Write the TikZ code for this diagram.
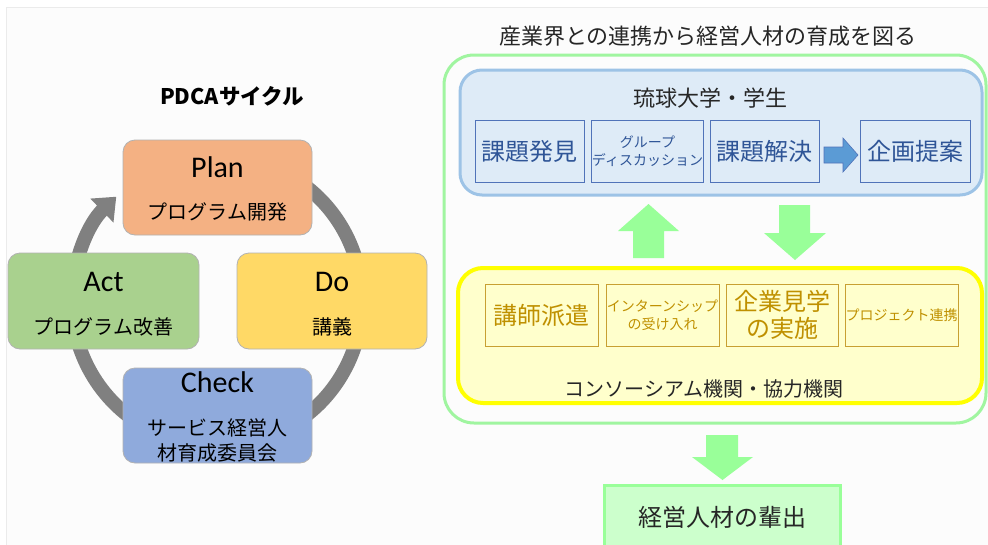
\documentclass[tikz,border=0pt]{standalone}
\usepackage{fontspec}
\setmainfont{Carlito}
\newfontfamily\jp{Noto Sans CJK JP}
\usetikzlibrary{arrows.meta}
\definecolor{planC}{RGB}{244,177,131}
\definecolor{actC}{RGB}{169,209,142}
\definecolor{doC}{RGB}{255,217,102}
\definecolor{checkC}{RGB}{143,170,220}
\definecolor{ringC}{RGB}{128,128,128}
\definecolor{outerC}{RGB}{160,245,160}
\definecolor{blueFill}{RGB}{222,235,247}
\definecolor{blueLine}{RGB}{157,195,230}
\definecolor{blueBox}{RGB}{80,115,185}
\definecolor{blueText}{RGB}{47,85,151}
\definecolor{blueArrow}{RGB}{91,155,213}
\definecolor{yelLine}{RGB}{255,255,0}
\definecolor{yelFill}{RGB}{255,255,204}
\definecolor{goldC}{RGB}{191,144,0}
\definecolor{goldLine}{RGB}{200,160,50}
\definecolor{arrowG}{RGB}{153,255,153}
\definecolor{resFill}{RGB}{204,255,204}
\begin{document}
\begin{tikzpicture}[x=1pt,y=1pt,
  pbox/.style={rounded corners=12pt, draw=black!30, line width=0.8pt, inner sep=0pt},
  ptxt/.style={inner sep=0pt, font=\fontsize{30}{32}\selectfont},
  pjp/.style={inner sep=0pt, font=\jp\fontsize{20}{22}\selectfont},
  ring/.style={draw=ringC, line width=14pt},
  bbox/.style={draw=blueBox, line width=1pt, fill=blueFill, minimum width=109pt, minimum height=62pt, inner sep=0pt, text=blueText, align=center},
  ybox/.style={draw=goldLine, line width=1pt, fill=yelFill, minimum width=113pt, minimum height=62pt, inner sep=0pt, text=goldC, align=center},
  big/.style={font=\jp\fontsize{24}{28}\selectfont},
  small/.style={font=\jp\fontsize{14}{18}\selectfont},
  garrow/.style={fill=arrowG, draw=none},
]
\useasboundingbox (0,0) rectangle (988,-544);
\fill[white] (0,0) rectangle (988,-544);
\filldraw[fill=black!1, draw=black!8, line width=0.8pt] (6,-7) rectangle (990,-546);

% ---------- PDCA ----------
\node[inner sep=0pt, font=\jp\bfseries\fontsize{21.5}{23}\selectfont] (pdcaT) at (232,-96) {PDCAサイクル};

\draw[ring, -{Triangle[length=20pt,width=32pt]}] (217,-301) ++(60:145) arc[start angle=60, end angle=-226, radius=145];

\node[pbox, fill=planC, minimum width=189pt, minimum height=95pt] (plan) at (217.5,-187.5) {};
\node[pbox, fill=actC, minimum width=191pt, minimum height=96pt] (act) at (103.5,-301) {};
\node[pbox, fill=doC, minimum width=190pt, minimum height=96pt] (do) at (332,-301) {};
\node[pbox, fill=checkC, minimum width=189pt, minimum height=95pt] (check) at (217.5,-415.5) {};

\node[ptxt] (planE) at (217.5,-167) {Plan};
\node[pjp] (planJ) at (217.5,-212) {プログラム開発};
\node[ptxt] (actE) at (103.5,-282) {Act};
\node[pjp] (actJ) at (103.5,-327) {プログラム改善};
\node[ptxt] (doE) at (332,-282) {Do};
\node[pjp] (doJ) at (332,-327) {講義};
\node[ptxt] (checkE) at (217.5,-382) {Check};
\node[pjp] (checkJa) at (217.5,-428) {サービス経営人};
\node[pjp] (checkJb) at (217.5,-453) {材育成委員会};

% ---------- right side ----------
\node[inner sep=0pt, font=\jp\fontsize{22}{24}\selectfont, text=black!85] (rightT) at (708,-36) {産業界との連携から経営人材の育成を図る};

\draw[draw=outerC, line width=3pt, rounded corners=30pt] (444,-55) rectangle (986,-423);

\draw[draw=blueLine, fill=blueFill, line width=3pt, rounded corners=22pt] (460,-70) rectangle (982,-195);
\node[inner sep=0pt, font=\jp\fontsize{22}{24}\selectfont, text=black!85] (univ) at (710,-98) {琉球大学・学生};

\node[bbox, big] (b1) at (529.5,-151) {課題発見};
\node[bbox, small] (b2) at (647.5,-151) {グループ\\ディスカッション};
\node[bbox, big] (b3) at (764.5,-151) {課題解決};
\node[bbox, big, minimum width=110pt] (b4) at (915,-151) {企画提案};

\filldraw[fill=blueArrow, draw=blueBox, line width=0.6pt]
  (824,-147) -- (843,-147) -- (843,-138) -- (858,-155) -- (843,-172) -- (843,-163) -- (824,-163) -- cycle;

\draw[draw=yelLine, fill=yelFill, line width=4pt, rounded corners=25pt] (458,-268) rectangle (982,-403);

\node[ybox, big] (y1) at (541.5,-315) {講師派遣};
\node[ybox, small] (y2) at (662.5,-315) {インターンシップ\\の受け入れ};
\node[ybox, big, minimum width=112pt, font=\jp\fontsize{24}{27}\selectfont] (y3) at (782,-315) {企業見学\\の実施};
\node[ybox, small] (y4) at (901.5,-315) {プロジェクト連携};

\node[inner sep=0pt, font=\jp\fontsize{20}{22}\selectfont, text=black!85] (cons) at (704,-389) {コンソーシアム機関・協力機関};

% green block arrows
\path[garrow] (633,-258) -- (633,-231) -- (618,-231) -- (648.5,-204) -- (679,-231) -- (664,-231) -- (664,-258) -- cycle;
\path[garrow] (779,-205) -- (779,-233) -- (764,-233) -- (795,-260) -- (826,-233) -- (810,-233) -- (810,-205) -- cycle;
\path[garrow] (706,-435) -- (706,-457) -- (692,-457) -- (722.5,-480) -- (753,-457) -- (738,-457) -- (738,-435) -- cycle;

\draw[fill=resFill, draw=arrowG, line width=3pt] (604,-485) rectangle (840,-560);
\node[inner sep=0pt, font=\jp\fontsize{24}{26}\selectfont, text=black!85] (result) at (722,-517) {経営人材の輩出};
\end{tikzpicture}
\end{document}
